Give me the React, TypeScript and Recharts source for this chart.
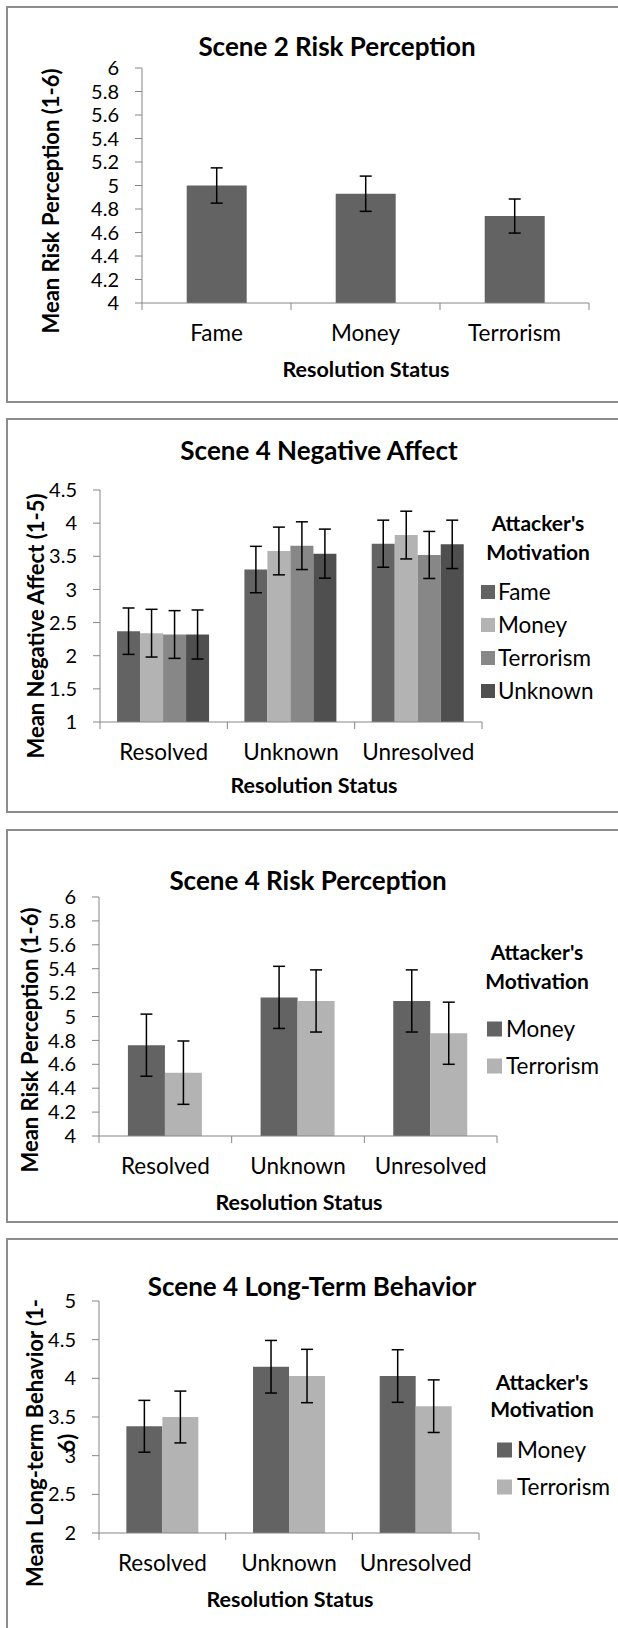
import React from "react";
import { Bar, BarChart, ErrorBar, Legend, XAxis, YAxis } from "recharts";

const FONT = "Lato, 'Open Sans', 'DejaVu Sans', sans-serif";
const PAGE_W = 618;
const PAGE_H = 1628;

const DARK = "#636363";
const LIGHT = "#b3b3b3";
const MID = "#878787";
const DARKEST = "#4f4f4f";
const AXIS = "#868686";
const BORDER = "#8c8c8c";

const TICK_FS = 20;
const CAT_FS = 22.5;
const LEGEND_FS = 22.5;
const LEGEND_TITLE_FS = 21;
const TITLE_FS = 26;
const AXIS_TITLE_FS = 22;
const X_TITLE_FS = 21.5;

// Scene 2 risk perception (by attacker's motivation)
const scene2Categories = ["Fame", "Money", "Terrorism"];
const scene2Risk = [5.0, 4.93, 4.74];
const scene2RiskErr = [0.15, 0.15, 0.145];
const riskTicks = [4, 4.2, 4.4, 4.6, 4.8, 5, 5.2, 5.4, 5.6, 5.8, 6];

const statusCategories = ["Resolved", "Unknown", "Unresolved"];

// Scene 4 negative affect
const affectFame = [2.37, 3.3, 3.69];
const affectMoney = [2.34, 3.58, 3.82];
const affectTerrorism = [2.32, 3.66, 3.52];
const affectUnknown = [2.32, 3.54, 3.68];
const affectFameErr = [0.35, 0.35, 0.355];
const affectMoneyErr = [0.36, 0.36, 0.36];
const affectTerrorismErr = [0.36, 0.36, 0.355];
const affectUnknownErr = [0.37, 0.37, 0.365];
const affectTicks = [1, 1.5, 2, 2.5, 3, 3.5, 4, 4.5];

// Scene 4 risk perception
const riskMoney = [4.76, 5.16, 5.13];
const riskTerrorism = [4.53, 5.13, 4.86];
const riskMoneyErr = [0.26, 0.26, 0.26];
const riskTerrorismErr = [0.265, 0.26, 0.26];

// Scene 4 long-term behavior
const behaviorMoney = [3.38, 4.15, 4.03];
const behaviorTerrorism = [3.5, 4.03, 3.64];
const behaviorMoneyErr = [0.335, 0.34, 0.34];
const behaviorTerrorismErr = [0.335, 0.345, 0.34];
const behaviorTicks = [2, 2.5, 3, 3.5, 4, 4.5, 5];

type Series = { key: string; name: string; color: string; values: number[]; errors: number[] };

const buildRows = (categories: string[], series: Series[]) =>
  categories.map((c, i) => {
    const row: any = { name: c };
    series.forEach((s) => {
      row[s.key] = s.values[i];
      row[s.key + "Err"] = s.errors[i];
    });
    return row;
  });

function CategoryTick(props: any) {
  const { x, payload, index, band, axisY, count } = props;
  const left = x - band / 2;
  return (
    <g>
      <line x1={left} x2={left} y1={axisY} y2={axisY + 7} stroke={AXIS} />
      {index === count - 1 && (
        <line x1={left + band} x2={left + band} y1={axisY} y2={axisY + 7} stroke={AXIS} />
      )}
      <text x={x} y={axisY + 38} textAnchor="middle" fontSize={CAT_FS} fill="#000" fontFamily={FONT}>
        {payload.value}
      </text>
    </g>
  );
}

type LegendSpec = { cx: number; titleY: number[]; swatchX: number; swatch: number; textX: number; itemY: number[] };

function MotivationLegend({ payload, spec, top, h }: any) {
  const s: LegendSpec = spec;
  return (
    <svg width={PAGE_W} height={h} style={{ overflow: "visible" }} fontFamily={FONT}>
      {["Attacker's", "Motivation"].map((t, i) => (
        <text
          key={t}
          x={s.cx}
          y={s.titleY[i] - top + LEGEND_TITLE_FS * 0.358}
          textAnchor="middle"
          fontSize={LEGEND_TITLE_FS}
          fontWeight="bold"
          fill="#000"
        >
          {t}
        </text>
      ))}
      {(payload || []).map((p: any, i: number) => (
        <g key={p.value}>
          <rect x={s.swatchX} y={s.itemY[i] - top - s.swatch / 2} width={s.swatch} height={s.swatch} fill={p.color} />
          <text x={s.textX} y={s.itemY[i] - top + LEGEND_FS * 0.358} fontSize={LEGEND_FS} fill="#000">
            {p.value}
          </text>
        </g>
      ))}
    </svg>
  );
}

type PanelProps = {
  boxTop: number;
  boxBottom: number;
  open?: boolean;
  plot: { top: number; bottom: number; left: number; right: number };
  categories: string[];
  series: Series[];
  domain: [number, number];
  ticks: number[];
  categoryGap: string;
  title: { text: string; x: number; y: number };
  xTitle: { x: number; y: number };
  yTitle: { text: string; x: number; y: number }[];
  legend?: LegendSpec;
};

function Panel(p: PanelProps) {
  const chartBottom = Math.min(p.boxBottom, PAGE_H);
  const H = chartBottom - p.boxTop;
  const Y_W = 60;
  const X_H = 40;
  const margin = {
    top: p.plot.top - p.boxTop,
    bottom: chartBottom - p.plot.bottom - X_H,
    left: p.plot.left - Y_W,
    right: PAGE_W - p.plot.right,
  };
  const band = (p.plot.right - p.plot.left) / p.categories.length;
  const axisY = p.plot.bottom - p.boxTop;
  const rows = buildRows(p.categories, p.series);
  return (
    <>
      <div
        style={{
          position: "absolute",
          left: 6,
          top: p.boxTop,
          width: 700,
          height: (p.open ? 1800 : p.boxBottom) - p.boxTop,
          border: `2px solid ${BORDER}`,
          boxSizing: "border-box",
        }}
      />
      <div style={{ position: "absolute", left: 0, top: p.boxTop, width: PAGE_W, height: H }}>
        <BarChart
          width={PAGE_W}
          height={H}
          data={rows}
          margin={margin}
          barCategoryGap={p.categoryGap}
          barGap={0}
          style={{ fontFamily: FONT }}
        >
          <XAxis
            dataKey="name"
            height={X_H}
            axisLine={{ stroke: AXIS }}
            tickLine={false}
            interval={0}
            tick={<CategoryTick band={band} axisY={axisY} count={p.categories.length} />}
          />
          <YAxis
            width={Y_W}
            type="number"
            domain={p.domain}
            ticks={p.ticks}
            interval={0}
            tickSize={7}
            tickMargin={16}
            axisLine={{ stroke: AXIS }}
            tickLine={{ stroke: AXIS }}
            tick={{ fontSize: TICK_FS, fill: "#000", fontFamily: FONT }}
          />
          {p.series.map((s) => (
            <Bar key={s.key} dataKey={s.key} name={s.name} fill={s.color} isAnimationActive={false}>
              <ErrorBar dataKey={s.key + "Err"} width={6} stroke="#000" strokeWidth={1.5} />
            </Bar>
          ))}
          {p.legend && (
            <Legend
              layout="vertical"
              align="center"
              verticalAlign="middle"
              wrapperStyle={{ left: 0, top: 0, width: PAGE_W, height: H }}
              content={(lp: any) => <MotivationLegend payload={lp.payload} spec={p.legend} top={p.boxTop} h={H} />}
            />
          )}
        </BarChart>
      </div>
      <svg
        width={PAGE_W}
        height={PAGE_H}
        style={{ position: "absolute", left: 0, top: 0, pointerEvents: "none" }}
        fontFamily={FONT}
      >
        <text x={p.title.x} y={p.title.y} textAnchor="middle" fontSize={TITLE_FS} fontWeight="bold" fill="#000">
          {p.title.text}
        </text>
        <text x={p.xTitle.x} y={p.xTitle.y} textAnchor="middle" fontSize={X_TITLE_FS} fontWeight="bold" fill="#000">
          Resolution Status
        </text>
        {p.yTitle.map((t) => (
          <text
            key={t.text}
            x={t.x}
            y={t.y}
            transform={`rotate(-90 ${t.x} ${t.y})`}
            textAnchor="middle"
            fontSize={AXIS_TITLE_FS}
            fontWeight="bold"
            fill="#000"
          >
            {t.text}
          </text>
        ))}
      </svg>
    </>
  );
}

const scene2Series: Series[] = [
  { key: "risk", name: "Risk", color: DARK, values: scene2Risk, errors: scene2RiskErr },
];

const affectSeries: Series[] = [
  { key: "fame", name: "Fame", color: DARK, values: affectFame, errors: affectFameErr },
  { key: "money", name: "Money", color: LIGHT, values: affectMoney, errors: affectMoneyErr },
  { key: "terrorism", name: "Terrorism", color: MID, values: affectTerrorism, errors: affectTerrorismErr },
  { key: "unknown", name: "Unknown", color: DARKEST, values: affectUnknown, errors: affectUnknownErr },
];

const riskSeries: Series[] = [
  { key: "money", name: "Money", color: DARK, values: riskMoney, errors: riskMoneyErr },
  { key: "terrorism", name: "Terrorism", color: LIGHT, values: riskTerrorism, errors: riskTerrorismErr },
];

const behaviorSeries: Series[] = [
  { key: "money", name: "Money", color: DARK, values: behaviorMoney, errors: behaviorMoneyErr },
  { key: "terrorism", name: "Terrorism", color: LIGHT, values: behaviorTerrorism, errors: behaviorTerrorismErr },
];

export default function App() {
  return (
    <div
      style={{
        position: "absolute",
        left: 0,
        top: 0,
        width: PAGE_W,
        height: PAGE_H,
        overflow: "hidden",
        background: "#fff",
        fontFamily: FONT,
      }}
    >
      <Panel
        boxTop={6}
        boxBottom={403}
        plot={{ top: 68, bottom: 303, left: 142, right: 589 }}
        categories={scene2Categories}
        series={scene2Series}
        domain={[4, 6]}
        ticks={riskTicks}
        categoryGap="30%"
        title={{ text: "Scene 2 Risk Perception", x: 337, y: 56 }}
        xTitle={{ x: 366, y: 377 }}
        yTitle={[{ text: "Mean Risk Perception (1-6)", x: 59, y: 201 }]}
      />
      <Panel
        boxTop={418}
        boxBottom={813}
        plot={{ top: 490, bottom: 722, left: 100, right: 482 }}
        categories={statusCategories}
        series={affectSeries}
        domain={[1, 4.5]}
        ticks={affectTicks}
        categoryGap="13.4%"
        title={{ text: "Scene 4 Negative Affect", x: 319, y: 460 }}
        xTitle={{ x: 314, y: 793 }}
        yTitle={[{ text: "Mean Negative Affect (1-5)", x: 44, y: 626 }]}
        legend={{ cx: 538, titleY: [523, 552], swatchX: 481, swatch: 14, textX: 498, itemY: [592, 625, 658, 691] }}
      />
      <Panel
        boxTop={829}
        boxBottom={1223}
        plot={{ top: 897, bottom: 1136, left: 99, right: 497 }}
        categories={statusCategories}
        series={riskSeries}
        domain={[4, 6]}
        ticks={riskTicks}
        categoryGap="21.8%"
        title={{ text: "Scene 4 Risk Perception", x: 308, y: 890 }}
        xTitle={{ x: 299, y: 1210 }}
        yTitle={[{ text: "Mean Risk Perception (1-6)", x: 38, y: 1040 }]}
        legend={{ cx: 537, titleY: [952, 981], swatchX: 487, swatch: 15, textX: 506, itemY: [1029, 1066] }}
      />
      <Panel
        boxTop={1238}
        boxBottom={1628}
        open
        plot={{ top: 1301, bottom: 1533, left: 99, right: 479 }}
        categories={statusCategories}
        series={behaviorSeries}
        domain={[2, 5]}
        ticks={behaviorTicks}
        categoryGap="21.6%"
        title={{ text: "Scene 4 Long-Term Behavior", x: 312, y: 1296 }}
        xTitle={{ x: 290, y: 1607 }}
        yTitle={[
          { text: "Mean Long-term Behavior (1-", x: 43, y: 1443 },
          { text: "6)", x: 75, y: 1443 },
        ]}
        legend={{ cx: 542, titleY: [1382, 1409], swatchX: 497, swatch: 15, textX: 517, itemY: [1450, 1487] }}
      />
    </div>
  );
}
